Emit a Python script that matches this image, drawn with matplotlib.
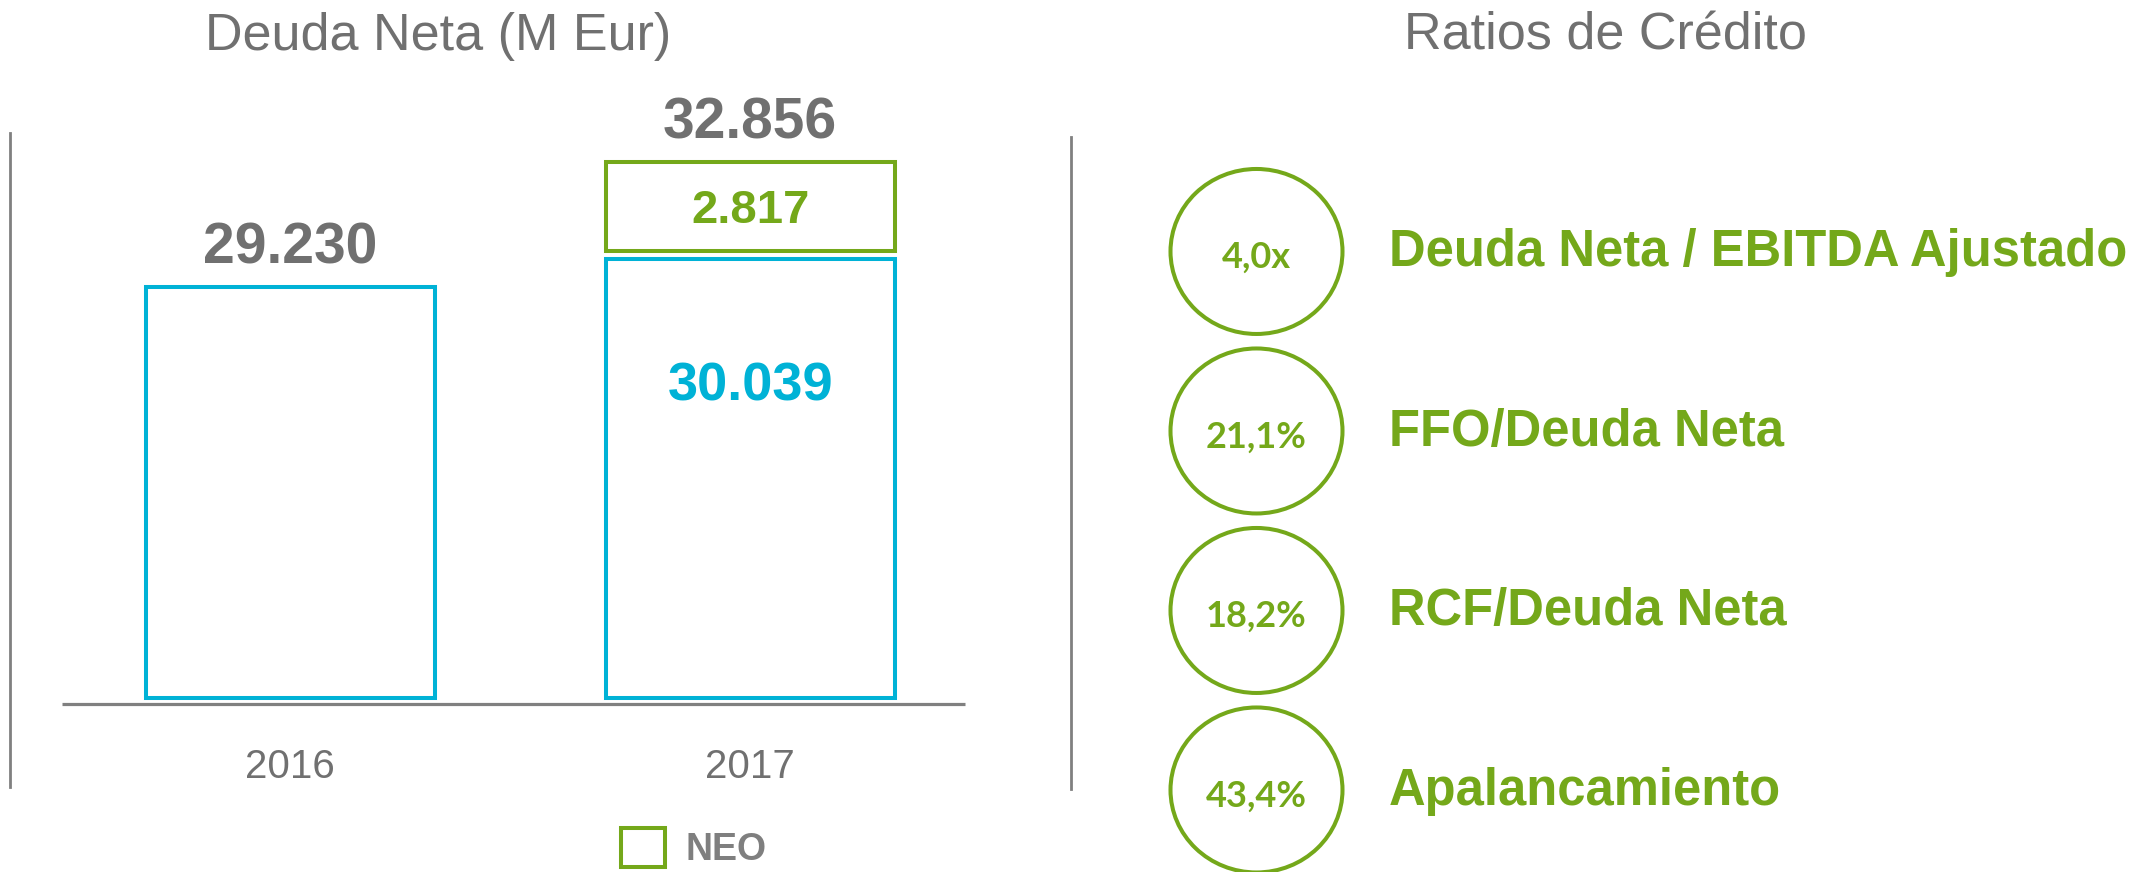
import matplotlib
matplotlib.use("Agg")
import matplotlib.pyplot as plt
from matplotlib.patches import Ellipse
from matplotlib.lines import Line2D
from matplotlib.transforms import offset_copy

# ---------------- data ----------------
years = ["2016", "2017"]
deuda_sin_neo = [29230, 30039]      # Deuda neta (M Eur), blue bars
neo = [0, 2817]                     # NEO component (2017)
deuda_total = [29230, 32856]        # totals shown on top

ratio_values = ["4,0x", "21,1%", "18,2%", "43,4%"]
ratio_labels = ["Deuda Neta / EBITDA Ajustado", "FFO/Deuda Neta",
                "RCF/Deuda Neta", "Apalancamiento"]

title_left = "Deuda Neta (M Eur)"
title_right = "Ratios de Crédito"
legend_label = "NEO"

# ---------------- style ----------------
GREEN = "#74A81A"
BLUE = "#00B2D6"
GRAY = "#707070"
LINEGRAY = "#808080"
FONT = "Liberation Sans"

W, H = 2145, 872
DPI = 100
fig = plt.figure(figsize=(W / DPI, H / DPI), dpi=DPI)
fig.patch.set_facecolor("white")


def px_rect(x0, y0, x1, y1):
    return [x0 / W, 1 - y1 / H, (x1 - x0) / W, (y1 - y0) / H]


def fmt(v):
    return format(v, ",").replace(",", ".")


# ---------------- left: bar chart ----------------
axis_floor = 17300   # value axis is truncated in the original
ax = fig.add_axes(px_rect(62, 100, 965, 698))
x = list(range(len(years)))
bar_w = 0.628
ax.bar(x, [v - axis_floor for v in deuda_sin_neo], width=bar_w,
       bottom=axis_floor, facecolor="white", edgecolor=BLUE, linewidth=2.9,
       label="_nolegend_", zorder=2, clip_on=False)
neo_gap = 230
neo_bottom = [b + neo_gap if n > 0 else b for b, n in zip(deuda_sin_neo, neo)]
neo_h = [n - neo_gap if n > 0 else 0 for n in neo]
neo_bars = ax.bar([1], [neo_h[1]], width=bar_w, bottom=[neo_bottom[1]],
                  facecolor="white", edgecolor=GREEN, linewidth=2.9,
                  label=legend_label, zorder=2)
ax.set_xlim(-0.4957, 1.467)
ax.set_ylim(axis_floor, 34650)
for s in ax.spines.values():
    s.set_visible(False)
ax.set_yticks([])
ax.set_xticks(x)
ax.set_xticklabels(years, fontsize=29, color=GRAY, family=FONT)
ax.tick_params(axis="x", length=0, pad=36)
ax.set_facecolor("none")

# baseline slightly below the bars
base_tr = offset_copy(ax.transAxes, fig, y=-5.5, units="dots")
ax.plot([0, 1], [0, 0], transform=base_tr, color=LINEGRAY, lw=2.3,
        clip_on=False, solid_capstyle="butt", zorder=3)

# totals
for i, v in enumerate(deuda_total):
    ax.annotate(fmt(v), xy=(i, v), xytext=(0, 17), textcoords="offset points",
                ha="center", va="baseline", fontsize=41, fontweight="bold",
                color=GRAY, family=FONT)
# NEO value
ax.text(1, neo_bottom[1] + neo_h[1] / 2, fmt(neo[1]), ha="center",
        va="center_baseline", fontsize=34, fontweight="bold", color=GREEN,
        family=FONT)
# 2017 ex-NEO value
ax.annotate(fmt(deuda_sin_neo[1]), xy=(1, deuda_sin_neo[1]), xytext=(0, -88),
            textcoords="offset points", ha="center", va="center_baseline",
            fontsize=39, fontweight="bold", color=BLUE, family=FONT)

leg = ax.legend(handles=[neo_bars], loc="center left",
                bbox_to_anchor=(621 / W, 1 - 848 / H),
                bbox_transform=fig.transFigure, frameon=False, borderpad=0,
                borderaxespad=0, handlelength=1.18, handleheight=1.24,
                handletextpad=0.55,
                prop={"family": FONT, "weight": "bold", "size": 27})
for t in leg.get_texts():
    t.set_color("#7F7F7F")

# ---------------- right: ratios ----------------
ax2 = fig.add_axes(px_rect(1100, 0, 2145, 872))
ax2.set_xlim(0, 1)
ax2.set_ylim(3.457, -1.401)
ax2.axis("off")
cx = (1256.5 - 1100) / 1045
ew = 172 / 1045
eh = 165 / 179.5
lab_tr = offset_copy(ax2.transData, fig, y=4, units="dots")
val_tr = offset_copy(ax2.transData, fig, y=-3, units="dots")
for i, (val, lab) in enumerate(zip(ratio_values, ratio_labels)):
    ax2.add_patch(Ellipse((cx, i), ew, eh, fill=False, edgecolor=GREEN,
                          linewidth=2.9))
    ax2.text(cx, i, val, ha="center", va="center_baseline", fontsize=26,
             fontweight="bold", color=GREEN, family="Lato", transform=val_tr)
    ax2.text((1389 - 1100) / 1045, i, lab, ha="left", va="center_baseline",
             fontsize=36.5, fontweight="bold", color=GREEN, family=FONT,
             transform=lab_tr)

# ---------------- titles & dividers ----------------
fig.text(438 / W, 1 - 31 / H, title_left, ha="center", va="center_baseline",
         fontsize=37.5, color=GRAY, family=FONT)
fig.text(1605 / W, 1 - 31 / H, title_right, ha="center", va="center_baseline",
         fontsize=37.5, color=GRAY, family=FONT)

fig.add_artist(Line2D([10 / W, 10 / W], [1 - 133 / H, 1 - 787 / H],
                      color=LINEGRAY, lw=2.0))
fig.add_artist(Line2D([1071 / W, 1071 / W], [1 - 137 / H, 1 - 789 / H],
                      color=LINEGRAY, lw=2.0))

fig.savefig("out.png", dpi=DPI, facecolor="white")
